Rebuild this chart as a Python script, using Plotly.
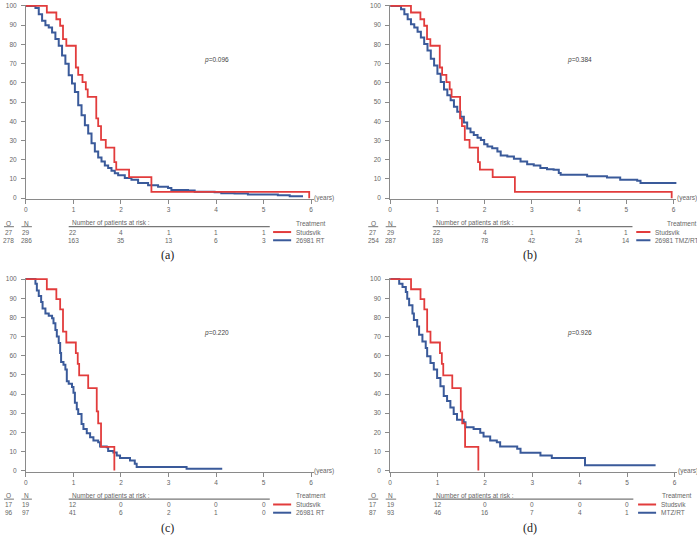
import plotly.graph_objects as go

W, H = 697, 537

# ---------------- data ----------------
years_ticks = [0, 1, 2, 3, 4, 5, 6]
risk_years = [1, 2, 3, 4, 5]

# Studsvik (panels a, b)
red_ab_t = [0, 0.44, 0.64, 0.72, 0.78, 0.85, 1.05, 1.10, 1.19, 1.26, 1.30, 1.48, 1.52, 1.58, 1.68, 1.86, 1.90, 2.17, 2.64, 5.96]
red_ab_s = [100, 96.6, 93.1, 89.7, 82.8, 79.3, 68.0, 64.2, 60.4, 56.6, 52.7, 41.5, 37.5, 30.3, 26.3, 18.8, 14.8, 11.0, 3.3, 0]

# 26981 RT (panel a)
blue_a_t = [0, 0.16, 0.20, 0.27, 0.34, 0.41, 0.48, 0.55, 0.62, 0.69, 0.76, 0.83, 0.90, 0.97, 1.03, 1.10, 1.17, 1.24, 1.31,
            1.38, 1.45, 1.52, 1.59, 1.66, 1.73, 1.80, 1.87, 1.94, 2.08, 2.22, 2.36, 2.57, 2.78, 2.99, 3.06, 3.41, 3.55,
            3.97, 4.11, 4.39, 4.67, 5.30, 5.55, 5.83]
blue_a_s = [100, 100, 99.0, 95.7, 92.3, 90.0, 88.8, 86.2, 82.8, 79.3, 74.2, 69.9, 63.9, 59.6, 55.2, 48.4, 43.2, 38.0, 33.7,
            28.6, 24.3, 21.2, 19.1, 17.0, 15.7, 14.3, 12.9, 11.9, 10.5, 9.6, 7.9, 6.7, 6.0, 5.3, 4.3, 4.0, 3.4,
            3.1, 2.6, 2.4, 1.9, 1.5, 1.0, 1.0]

# 26981 TMZ/RT (panel b)
blue_b_t = [0, 0.15, 0.23, 0.30, 0.37, 0.44, 0.51, 0.58, 0.65, 0.72, 0.79, 0.86, 0.93, 1.00, 1.07, 1.14, 1.21, 1.28, 1.35,
            1.42, 1.49, 1.56, 1.63, 1.70, 1.77, 1.85, 1.92, 1.99, 2.06, 2.16, 2.27, 2.34, 2.48, 2.62, 2.76, 2.90, 3.04,
            3.18, 3.32, 3.46, 3.57, 3.61, 4.10, 4.17, 4.59, 4.87, 5.23, 5.30, 6.05]
blue_b_s = [100, 100, 98.3, 95.7, 93.1, 90.5, 88.8, 86.6, 83.6, 80.2, 76.8, 72.5, 69.0, 64.7, 60.4, 56.6, 53.5, 50.9, 47.5,
            44.9, 42.3, 39.4, 36.3, 34.3, 32.9, 31.5, 30.3, 28.1, 26.9, 26.0, 24.3, 22.2, 21.7, 20.5, 19.1, 17.7, 17.0,
            15.7, 15.1, 14.8, 13.1, 12.2, 12.2, 11.4, 10.8, 9.6, 9.1, 7.9, 7.4]

# Studsvik (panels c, d)
red_cd_t = [0, 0.44, 0.64, 0.72, 0.78, 0.85, 1.05, 1.09, 1.12, 1.31, 1.49, 1.52, 1.58, 1.86]
red_cd_s = [100, 94.7, 89.5, 84.2, 72.6, 66.9, 61.4, 55.7, 49.7, 43.1, 30.9, 24.7, 12.4, 0]

# 26981 RT (panel c)
blue_c_t = [0, 0.16, 0.20, 0.23, 0.27, 0.32, 0.35, 0.41, 0.48, 0.55, 0.58, 0.62, 0.65, 0.69, 0.72, 0.74, 0.79, 0.83, 0.86,
            0.90, 0.97, 1.00, 1.03, 1.07, 1.10, 1.17, 1.21, 1.28, 1.35, 1.42, 1.52, 1.56, 1.70, 1.73, 1.84, 1.91, 1.98,
            2.19, 2.29, 2.33, 3.38, 4.13]
blue_c_s = [100, 100, 97.6, 94.1, 91.2, 88.1, 84.7, 82.1, 80.9, 79.5, 76.9, 73.4, 70.0, 66.6, 61.4, 56.7, 55.3, 52.8, 46.7,
            45.3, 43.6, 40.7, 35.5, 32.1, 29.5, 24.3, 21.7, 19.5, 17.4, 15.7, 14.8, 12.6, 12.2, 10.2, 9.5, 7.9, 6.6,
            5.3, 3.6, 1.9, 1.0, 1.0]

# MTZ/RT (panel d)
blue_d_t = [0, 0.15, 0.19, 0.26, 0.33, 0.36, 0.40, 0.47, 0.50, 0.57, 0.61, 0.68, 0.75, 0.78, 0.85, 0.92, 0.99, 1.06, 1.13,
            1.20, 1.27, 1.34, 1.41, 1.55, 1.59, 1.76, 1.90, 1.97, 2.11, 2.25, 2.32, 2.68, 2.75, 3.17, 3.41, 4.11, 5.60]
blue_d_s = [100, 100, 97.6, 95.9, 93.3, 89.8, 86.4, 82.1, 78.6, 75.2, 70.9, 67.4, 64.0, 59.7, 56.2, 52.8, 48.4, 44.1, 39.0,
            36.4, 32.9, 29.5, 26.6, 25.2, 22.6, 21.7, 19.8, 17.8, 15.7, 14.8, 12.6, 11.4, 9.3, 7.9, 6.6, 2.8, 2.8]

p_values = ["0.096", "0.384", "0.220", "0.926"]
captions = ["(a)", "(b)", "(c)", "(d)"]
arm_labels = [["Studsvik", "26981 RT"], ["Studsvik", "26981 TMZ/RT"], ["Studsvik", "26981 RT"], ["Studsvik", "MTZ/RT"]]
O_vals = [[27, 278], [27, 254], [17, 96], [17, 87]]
N_vals = [[29, 286], [29, 287], [19, 97], [19, 93]]
risk_red = [[22, 4, 1, 1, 1], [22, 4, 1, 1, 1], [12, 0, 0, 0, 0], [12, 0, 0, 0, 0]]
risk_blue = [[163, 35, 13, 6, 3], [189, 78, 42, 24, 14], [41, 6, 2, 1, 0], [46, 16, 7, 4, 1]]

red_curves = [(red_ab_t, red_ab_s), (red_ab_t, red_ab_s), (red_cd_t, red_cd_s), (red_cd_t, red_cd_s)]
blue_curves = [(blue_a_t, blue_a_s), (blue_b_t, blue_b_s), (blue_c_t, blue_c_s), (blue_d_t, blue_d_s)]

# ---------------- layout geometry (pixels) ----------------
panels = [
    dict(x0=24.0, x6=310.0, y100=3.0, y0=197.0, cap_x=166, leg=(5.20, 5.58, 5.64), treat=5.64),
    dict(x0=389.3, x6=673.5, y100=3.0, y0=197.0, cap_x=530, leg=(5.21, 5.51, 5.56), treat=5.82),
    dict(x0=24.0, x6=310.0, y100=278.7, y0=472.0, cap_x=166, leg=(5.20, 5.58, 5.64), treat=5.64),
    dict(x0=389.3, x6=674.5, y100=278.7, y0=472.0, cap_x=530, leg=(5.23, 5.61, 5.67), treat=5.69),
]
XMAX = 6.06
YPAD = 0.6

RED = "#e23c3c"
BLUE = "#3a5a9a"
GRAY = "#666666"
AX = "#8a8a8a"
FONT = "Liberation Sans, Arial, sans-serif"
FS = 6.5


def pxx(x):
    return x / W


def pxy(y):
    return 1 - y / H


fig = go.Figure()
annotations = []
shapes = []
layout_axes = {}

for i, p in enumerate(panels):
    k = "" if i == 0 else str(i + 1)
    xa, ya = "x" + k, "y" + k
    sx = (p["x6"] - p["x0"]) / 6.0
    sy = (p["y0"] - p["y100"]) / 100.0
    left = p["x0"]
    right = p["x0"] + XMAX * sx
    top = p["y100"] - YPAD * sy
    bottom = p["y0"] + YPAD * sy

    layout_axes["xaxis" + k] = dict(
        domain=[pxx(left), pxx(right)], range=[0, XMAX], anchor=ya,
        tickvals=years_ticks, showline=True, linecolor=AX, linewidth=1,
        ticks="outside", ticklen=4, tickcolor=AX, tickwidth=1,
        tickfont=dict(size=FS, color=GRAY, family=FONT),
        showgrid=False, zeroline=False, fixedrange=True,
    )
    layout_axes["yaxis" + k] = dict(
        domain=[pxy(bottom), pxy(top)], range=[-YPAD, 100 + YPAD], anchor=xa,
        tickvals=list(range(0, 101, 10)), showline=True, linecolor=AX, linewidth=1,
        ticks="outside", ticklen=4, tickcolor=AX, tickwidth=1, ticklabelstandoff=3,
        tickfont=dict(size=FS, color=GRAY, family=FONT),
        showgrid=False, zeroline=False, fixedrange=True,
    )

    bt, bs = blue_curves[i]
    rt, rs = red_curves[i]
    fig.add_trace(go.Scatter(x=bt, y=bs, mode="lines", line=dict(color=BLUE, width=2, shape="hv"),
                             xaxis=xa, yaxis=ya, showlegend=False, hoverinfo="skip"))
    fig.add_trace(go.Scatter(x=rt, y=rs, mode="lines", line=dict(color=RED, width=1.8, shape="hv"),
                             xaxis=xa, yaxis=ya, showlegend=False, hoverinfo="skip"))

    # p-value and (years)
    annotations.append(dict(xref=xa, yref=ya, x=4, y=72, text="<i>p</i>=" + p_values[i], showarrow=False,
                            font=dict(size=FS, color="#444", family=FONT), xanchor="center", yanchor="middle"))
    annotations.append(dict(xref=xa, yref=ya, x=6, y=0, text="(years)", showarrow=False, xshift=1,
                            font=dict(size=FS, color=GRAY, family=FONT), xanchor="left", yanchor="middle"))

    # risk table rows (pixel y positions)
    y_head = p["y0"] + 25.3
    y_line = p["y0"] + 28.8
    y_r1 = p["y0"] + 34.2
    y_r2 = p["y0"] + 42.5
    xO = p["x0"] - 17
    xN = p["x0"] + 0.5
    tf = dict(size=FS, color=GRAY, family=FONT)

    for txt, xx in (("O", xO), ("N", xN)):
        annotations.append(dict(xref="paper", yref="paper", x=pxx(xx), y=pxy(y_head), text=txt, showarrow=False,
                                font=tf, xanchor="center", yanchor="middle"))
    shapes.append(dict(type="line", xref="paper", yref="paper", x0=pxx(xO - 5), x1=pxx(xO + 5),
                       y0=pxy(y_line), y1=pxy(y_line), line=dict(color="#777", width=1)))
    shapes.append(dict(type="line", xref="paper", yref="paper", x0=pxx(xN - 5), x1=pxx(xN + 5.5),
                       y0=pxy(y_line), y1=pxy(y_line), line=dict(color="#777", width=1)))
    for row, yy in ((0, y_r1), (1, y_r2)):
        annotations.append(dict(xref="paper", yref="paper", x=pxx(xO), y=pxy(yy), text=str(O_vals[i][row]),
                                showarrow=False, font=tf, xanchor="center", yanchor="middle"))
        annotations.append(dict(xref="paper", yref="paper", x=pxx(xN), y=pxy(yy), text=str(N_vals[i][row]),
                                showarrow=False, font=tf, xanchor="center", yanchor="middle"))

    annotations.append(dict(xref=xa, yref="paper", x=0.92, y=pxy(y_head), text="Number of patients at risk :",
                            showarrow=False, font=tf, xanchor="left", yanchor="middle"))
    shapes.append(dict(type="line", xref=xa, yref="paper", x0=0.90, x1=5.13, y0=pxy(y_line), y1=pxy(y_line),
                       line=dict(color="#777", width=1.2)))
    for j, yr in enumerate(risk_years):
        annotations.append(dict(xref=xa, yref="paper", x=yr, y=pxy(y_r1), text=str(risk_red[i][j]),
                                showarrow=False, font=tf, xanchor="center", yanchor="middle"))
        annotations.append(dict(xref=xa, yref="paper", x=yr, y=pxy(y_r2), text=str(risk_blue[i][j]),
                                showarrow=False, font=tf, xanchor="center", yanchor="middle"))

    # legend
    l0, l1, lt = p["leg"]
    annotations.append(dict(xref=xa, yref="paper", x=p["treat"], y=pxy(y_head), text="Treatment",
                            showarrow=False, font=tf, xanchor="left", yanchor="middle"))
    for col, lab, yy in ((RED, arm_labels[i][0], y_r1), (BLUE, arm_labels[i][1], y_r2)):
        shapes.append(dict(type="line", xref=xa, yref="paper", x0=l0, x1=l1, y0=pxy(yy), y1=pxy(yy),
                           line=dict(color=col, width=2)))
        annotations.append(dict(xref=xa, yref="paper", x=lt, y=pxy(yy), text=lab,
                                showarrow=False, font=tf, xanchor="left", yanchor="middle"))

    # caption
    annotations.append(dict(xref="paper", yref="paper", x=pxx(p["cap_x"]), y=pxy(p["y0"] + 57.5),
                            text=captions[i], showarrow=False,
                            font=dict(size=12, color="#222", family="Liberation Serif, Times New Roman, serif"),
                            xanchor="center", yanchor="middle"))

fig.update_layout(
    width=W, height=H, margin=dict(l=0, r=0, t=0, b=0),
    paper_bgcolor="white", plot_bgcolor="white",
    showlegend=False, annotations=annotations, shapes=shapes,
    **layout_axes,
)

fig.write_html("out.html", config={"displayModeBar": False},
               post_script="document.body.style.margin='0px';document.body.style.overflow='hidden';")
